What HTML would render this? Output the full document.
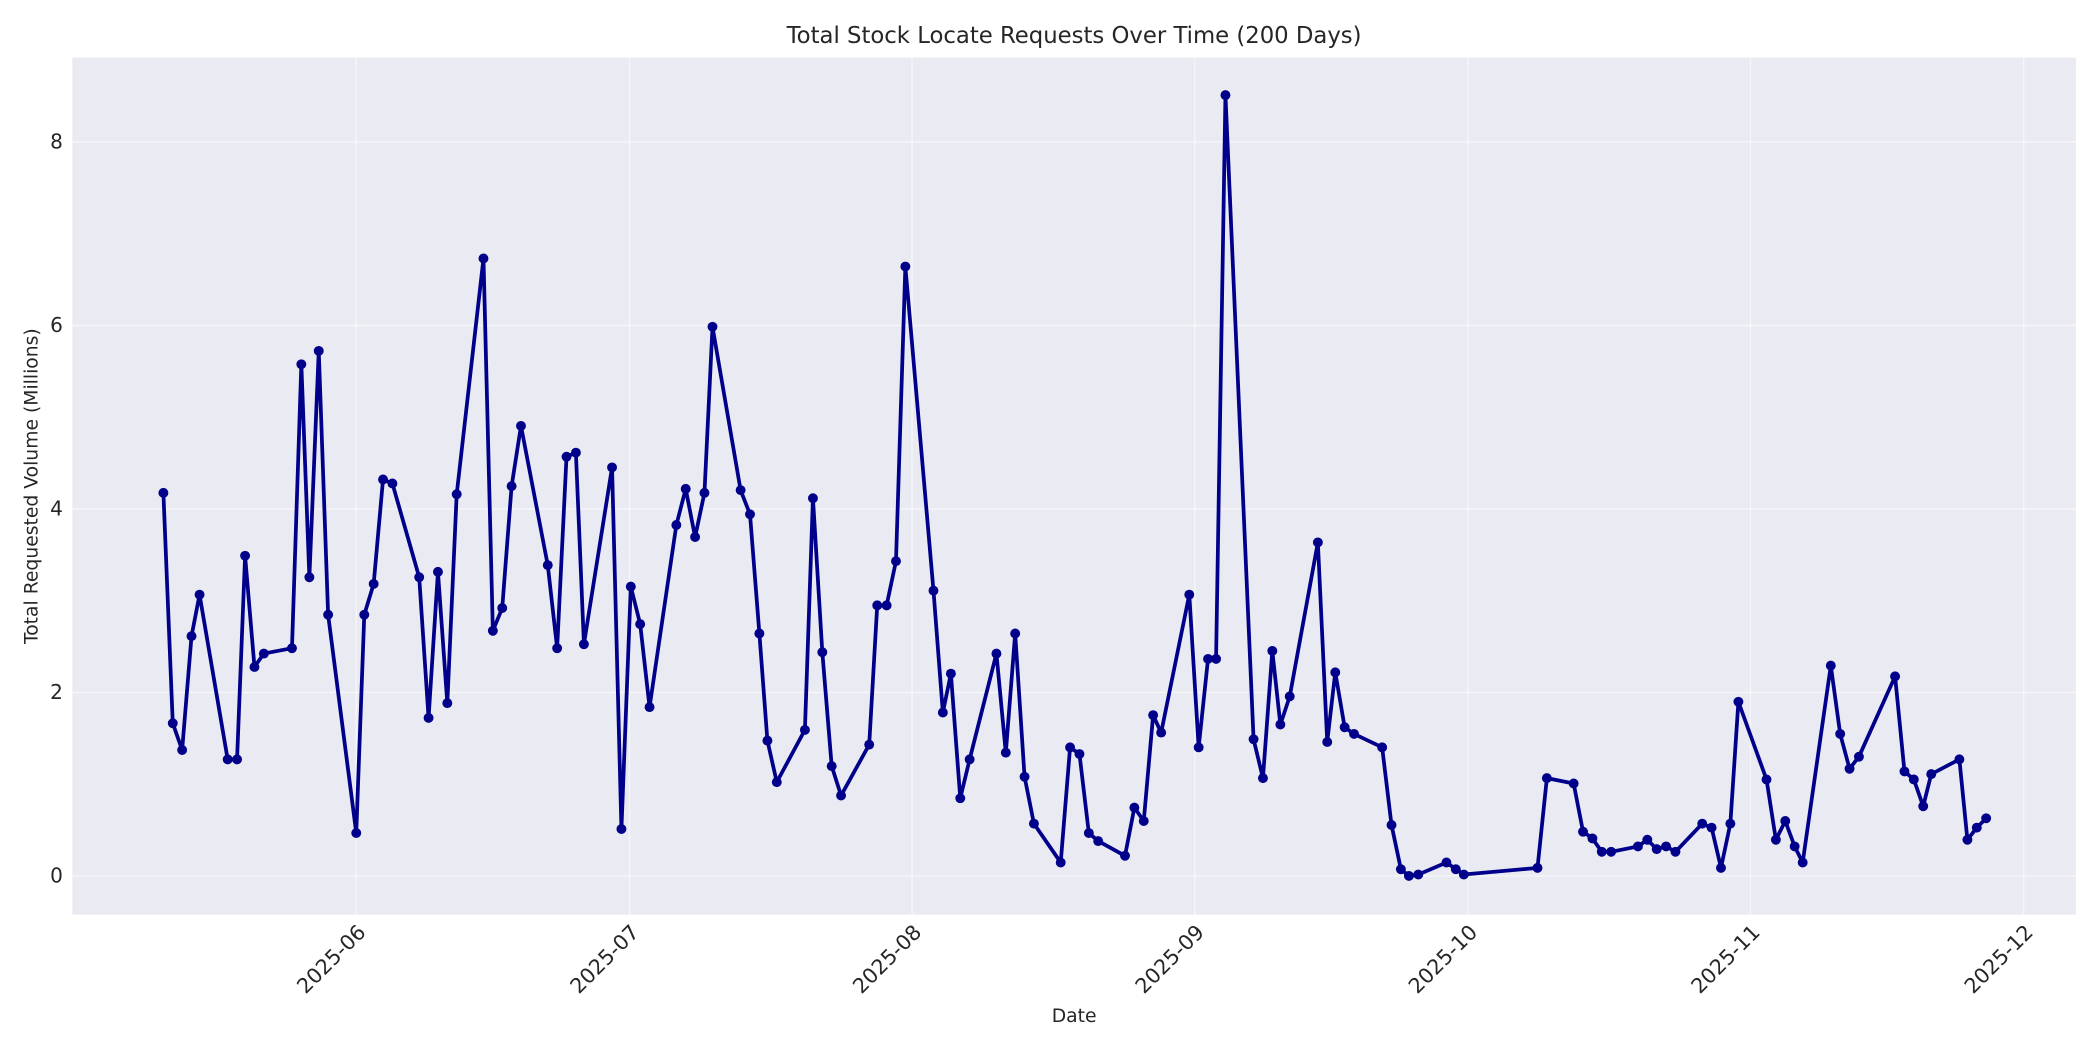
<!DOCTYPE html>
<html><head><meta charset="utf-8"><style>html,body{margin:0;padding:0;background:#fff}svg{display:block}</style></head>
<body>
<svg width="2100" height="1050" viewBox="0 0 1568 784" xmlns="http://www.w3.org/2000/svg" font-family="DejaVu Sans, Liberation Sans, sans-serif">
<rect x="0" y="0" width="1568" height="784" fill="#fff"/>
<rect x="54" y="43" width="1496" height="640" fill="#eaeaf2"/>
<g stroke="#fff" stroke-width="1" stroke-opacity="0.55">
<line x1="266" y1="43" x2="266" y2="683"/><line x1="470" y1="43" x2="470" y2="683"/><line x1="681" y1="43" x2="681" y2="683"/><line x1="892" y1="43" x2="892" y2="683"/><line x1="1096" y1="43" x2="1096" y2="683"/><line x1="1307" y1="43" x2="1307" y2="683"/><line x1="1511" y1="43" x2="1511" y2="683"/>
<line x1="54" y1="654" x2="1550" y2="654"/><line x1="54" y1="517" x2="1550" y2="517"/><line x1="54" y1="380" x2="1550" y2="380"/><line x1="54" y1="243" x2="1550" y2="243"/><line x1="54" y1="106" x2="1550" y2="106"/>
</g>
<g font-size="15" fill="#262626" text-anchor="end">
<text x="47" y="659">0</text><text x="47" y="522">2</text><text x="47" y="385">4</text><text x="47" y="248">6</text><text x="47" y="111">8</text>
</g>
<g font-size="15.5" fill="#262626" text-anchor="end">
<text transform="translate(274,697) rotate(-45)">2025-06</text>
<text transform="translate(478,697) rotate(-45)">2025-07</text>
<text transform="translate(689,697) rotate(-45)">2025-08</text>
<text transform="translate(900,697) rotate(-45)">2025-09</text>
<text transform="translate(1104,697) rotate(-45)">2025-10</text>
<text transform="translate(1315,697) rotate(-45)">2025-11</text>
<text transform="translate(1519,697) rotate(-45)">2025-12</text>
</g>
<text x="802" y="32" font-size="17" fill="#262626" text-anchor="middle">Total Stock Locate Requests Over Time (200 Days)</text>
<text x="802" y="763" font-size="14" fill="#262626" text-anchor="middle">Date</text>
<text transform="translate(28,363) rotate(-90)" font-size="14" fill="#262626" text-anchor="middle">Total Requested Volume (Millions)</text>
<polyline id="pl" fill="none" stroke="#00008b" stroke-width="2.8" stroke-linejoin="round" points="122,368 129,540 136,560 143,475 149,444 170,567 177,567 183,415 190,498 197,488 218,484 225,272 231,431 238,262 245,459 266,622 272,459 279,436 286,358 293,361 313,431 320,536 327,427 334,525 341,369 361,193 368,471 375,454 382,363 389,318 409,422 416,484 423,341 430,338 436,481 457,349 464,619 471,438 478,466 485,528 505,392 512,365 519,401 526,368 532,244 553,366 560,384 567,473 573,553 580,584 601,545 607,372 614,487 621,572 628,594 649,556 655,452 662,452 669,419 676,199 697,441 704,532 710,503 717,596 724,567 744,488 751,562 758,473 765,580 772,615 792,644 799,558 806,563 813,622 820,628 840,639 847,603 854,613 861,534 867,547 888,444 895,558 902,492 908,492 915,71 936,552 943,581 950,486 956,541 963,520 984,405 991,554 997,502 1004,543 1011,548 1032,558 1039,616 1046,649 1052,654 1059,653 1080,644 1087,649 1093,653 1148,648 1155,581 1175,585 1182,621 1189,626 1196,636 1203,636 1223,632 1230,627 1237,634 1244,632 1251,636 1271,615 1278,618 1285,648 1292,615 1298,524 1319,582 1326,627 1333,613 1340,632 1346,644 1367,497 1374,548 1381,574 1388,565 1415,505 1422,576 1429,582 1436,602 1442,578 1463,567 1469,627 1476,618 1483,611"/>
<g fill="#00008b" id="m"></g>
<script>
var pts=document.getElementById("pl").getAttribute("points").trim().split(/\s+/);
var g=document.getElementById("m"),ns="http://www.w3.org/2000/svg";
pts.forEach(function(p){var a=p.split(",");var c=document.createElementNS(ns,"circle");c.setAttribute("cx",a[0]);c.setAttribute("cy",a[1]);c.setAttribute("r","3.7");g.appendChild(c);});
</script>
</svg>
</body></html>
